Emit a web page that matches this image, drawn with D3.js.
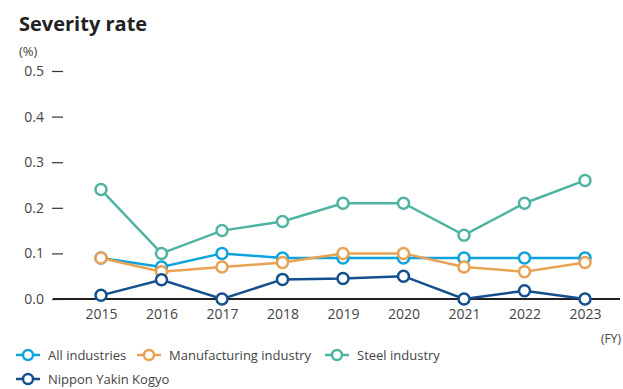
<!DOCTYPE html>
<html lang="en">
<head>
<meta charset="utf-8">
<title>Severity rate</title>
<script src="https://cdn.jsdelivr.net/npm/d3@7"></script>
<style>
  body { margin: 0; background: #fff; font-family: "Open Sans", "Noto Sans", sans-serif; }
</style>
</head>
<body>
<div id="chart"></div>
<script>
var years = ["2015", "2016", "2017", "2018", "2019", "2020", "2021", "2022", "2023"];
var allIndustries = [0.09, 0.07, 0.10, 0.09, 0.09, 0.09, 0.09, 0.09, 0.09];
var manufacturing = [0.09, 0.06, 0.07, 0.08, 0.10, 0.10, 0.07, 0.06, 0.08];
var steel = [0.24, 0.10, 0.15, 0.17, 0.21, 0.21, 0.14, 0.21, 0.26];
var nipponYakin = [0.008, 0.042, 0.00, 0.043, 0.045, 0.05, 0.00, 0.018, 0.00];
var yTicks = [0, 0.1, 0.2, 0.3, 0.4, 0.5];

var series = [
  { name: "All industries", values: allIndustries, color: "#0ea3dc" },
  { name: "Manufacturing industry", values: manufacturing, color: "#e8a253" },
  { name: "Steel industry", values: steel, color: "#4fb3a2" },
  { name: "Nippon Yakin Kogyo", values: nipponYakin, color: "#144f8e" }
];

var width = 623, height = 389;
var svg = d3.select("#chart").append("svg")
  .attr("width", width).attr("height", height);

svg.append("text").attr("x", 19).attr("y", 31)
  .attr("font-size", 20).attr("font-weight", "bold").attr("fill", "#222")
  .text("Severity rate");
svg.append("text").attr("x", 19).attr("y", 56)
  .attr("font-size", 13).attr("fill", "#444").text("(%)");

var x = d3.scalePoint().domain(years).range([101, 585]);
var y = d3.scaleLinear().domain([0, 0.5]).range([299, 71]);

// y axis: only tick dashes, no domain line
var yAxis = svg.append("g").attr("transform", "translate(63,0)")
  .call(d3.axisLeft(y).tickValues(yTicks).tickFormat(d3.format(".1f")).tickSize(11).tickPadding(8));
yAxis.select(".domain").remove();
yAxis.selectAll("line").attr("stroke", "#333").attr("stroke-width", 1.2);
yAxis.selectAll("text").attr("font-size", 14).attr("fill", "#444")
  .attr("font-family", "\"Open Sans\", \"Noto Sans\", sans-serif");

// x axis
var xAxis = svg.append("g").attr("transform", "translate(0,299)")
  .call(d3.axisBottom(x).tickSize(0).tickPadding(10));
xAxis.select(".domain").remove();
xAxis.selectAll("text").attr("font-size", 14).attr("fill", "#444")
  .attr("font-family", "\"Open Sans\", \"Noto Sans\", sans-serif");

svg.append("line").attr("x1", 53).attr("x2", 620)
  .attr("y1", y(0)).attr("y2", y(0))
  .attr("stroke", "#222").attr("stroke-width", 2);

svg.append("text").attr("x", 621).attr("y", 343).attr("text-anchor", "end")
  .attr("font-size", 12).attr("fill", "#444").text("(FY)");

var line = d3.line().x(function(d, i) { return x(years[i]); }).y(function(d) { return y(d); });

series.forEach(function(s) {
  var g = svg.append("g");
  g.append("path").datum(s.values).attr("d", line)
    .attr("fill", "none").attr("stroke", s.color).attr("stroke-width", 2.5);
  g.selectAll("circle").data(s.values).enter().append("circle")
    .attr("cx", function(d, i) { return x(years[i]); })
    .attr("cy", function(d) { return y(d); })
    .attr("r", 5.5)
    .attr("fill", "#fff").attr("stroke", s.color).attr("stroke-width", 2.5);
});

// legend
var legendPos = [[16, 355], [137, 355], [325, 355], [16, 379]];
series.forEach(function(s, i) {
  var lg = svg.append("g").attr("transform", "translate(" + legendPos[i][0] + "," + legendPos[i][1] + ")");
  lg.append("line").attr("x1", 0).attr("x2", 24).attr("stroke", s.color).attr("stroke-width", 2.5);
  lg.append("circle").attr("cx", 12).attr("r", 5)
    .attr("fill", "#fff").attr("stroke", s.color).attr("stroke-width", 2.5);
  lg.append("text").attr("x", 32).attr("y", 5).attr("font-size", 13).attr("fill", "#444").text(s.name);
});
</script>
</body>
</html>
